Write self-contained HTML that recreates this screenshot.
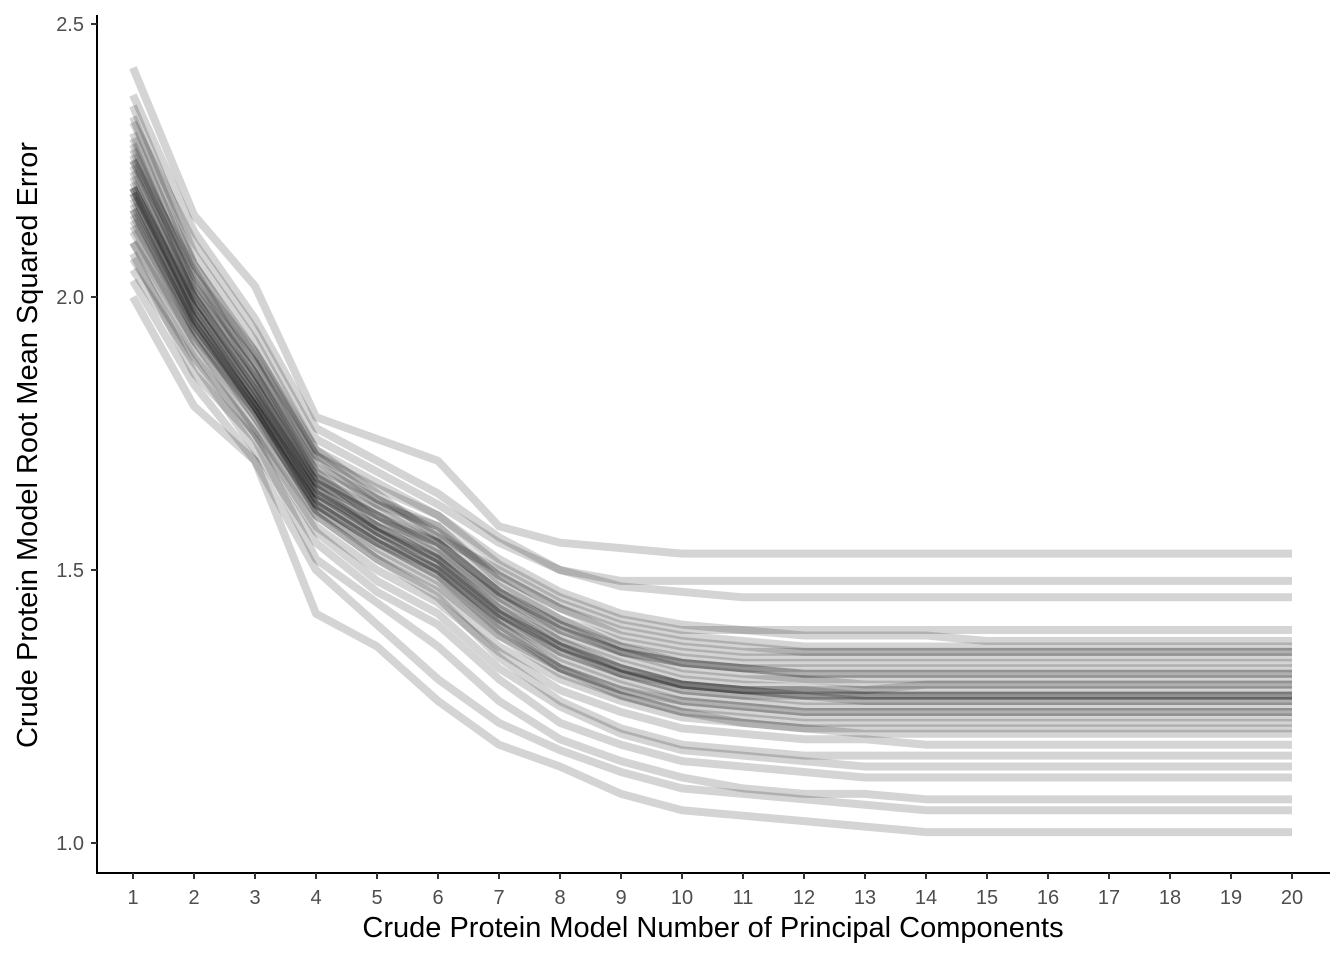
<!DOCTYPE html>
<html><head><meta charset="utf-8"><style>
html,body{margin:0;padding:0;background:#fff;}
svg{display:block;font-family:"Liberation Sans",Arial,sans-serif;}
</style></head><body>
<svg id="chart" width="1344" height="960">
<g id="lines"></g>
<g id="axes"></g>
<text x="713" y="937" text-anchor="middle" style="font-size:29px" fill="#000">Crude Protein Model Number of Principal Components</text>
<text transform="translate(37,445) rotate(-90)" text-anchor="middle" style="font-size:29px" fill="#000">Crude Protein Model Root Mean Squared Error</text>
</svg>
<script>
const components = [1,2,3,4,5,6,7,8,9,10,11,12,13,14,15,16,17,18,19,20];
const yTicks = [1.0,1.5,2.0,2.5];
const yTickLabels = ["1.0","1.5","2.0","2.5"];
const runs = [
[2.20,1.98,1.82,1.65,1.58,1.52,1.43,1.37,1.33,1.30,1.29,1.285,1.28,1.28,1.28,1.28,1.28,1.28,1.28,1.28],
[2.35,2.08,1.92,1.72,1.66,1.60,1.52,1.46,1.42,1.40,1.39,1.38,1.38,1.38,1.37,1.37,1.37,1.37,1.37,1.37],
[2.10,1.90,1.75,1.58,1.50,1.44,1.35,1.28,1.24,1.21,1.20,1.19,1.19,1.18,1.18,1.18,1.18,1.18,1.18,1.18],
[2.28,2.02,1.88,1.70,1.62,1.58,1.48,1.41,1.36,1.33,1.32,1.31,1.31,1.31,1.31,1.31,1.31,1.31,1.31,1.31],
[2.15,1.95,1.80,1.62,1.55,1.49,1.40,1.33,1.29,1.26,1.25,1.24,1.24,1.24,1.24,1.24,1.24,1.24,1.24,1.24],
[2.42,2.15,2.02,1.78,1.74,1.70,1.58,1.55,1.54,1.53,1.53,1.53,1.53,1.53,1.53,1.53,1.53,1.53,1.53,1.53],
[2.00,1.80,1.70,1.42,1.36,1.26,1.18,1.14,1.09,1.06,1.05,1.04,1.03,1.02,1.02,1.02,1.02,1.02,1.02,1.02],
[2.22,2.00,1.84,1.66,1.60,1.54,1.45,1.39,1.35,1.33,1.32,1.32,1.32,1.32,1.32,1.32,1.32,1.32,1.32,1.32],
[2.18,1.96,1.80,1.63,1.56,1.50,1.41,1.35,1.31,1.28,1.27,1.27,1.27,1.27,1.27,1.27,1.27,1.27,1.27,1.27],
[2.25,2.05,1.86,1.68,1.59,1.55,1.46,1.40,1.36,1.34,1.33,1.33,1.33,1.33,1.33,1.33,1.33,1.33,1.33,1.33],
[2.05,1.88,1.72,1.55,1.46,1.40,1.30,1.22,1.18,1.15,1.14,1.13,1.12,1.12,1.12,1.12,1.12,1.12,1.12,1.12],
[2.30,2.04,1.90,1.72,1.64,1.56,1.50,1.44,1.40,1.38,1.37,1.36,1.36,1.36,1.36,1.36,1.36,1.36,1.36,1.36],
[2.12,1.92,1.78,1.60,1.52,1.46,1.36,1.30,1.26,1.23,1.22,1.21,1.21,1.21,1.21,1.21,1.21,1.21,1.21,1.21],
[2.20,1.99,1.83,1.64,1.57,1.51,1.42,1.36,1.32,1.29,1.28,1.28,1.28,1.29,1.29,1.29,1.29,1.29,1.29,1.29],
[2.26,2.01,1.86,1.69,1.63,1.57,1.49,1.43,1.39,1.37,1.36,1.35,1.35,1.35,1.35,1.35,1.35,1.35,1.35,1.35],
[2.16,1.94,1.79,1.61,1.54,1.48,1.38,1.32,1.28,1.25,1.24,1.23,1.23,1.23,1.23,1.23,1.23,1.23,1.23,1.23],
[2.32,2.10,1.94,1.74,1.68,1.62,1.55,1.50,1.47,1.46,1.45,1.45,1.45,1.45,1.45,1.45,1.45,1.45,1.45,1.45],
[2.08,1.86,1.74,1.52,1.44,1.36,1.26,1.19,1.15,1.12,1.10,1.09,1.09,1.08,1.08,1.08,1.08,1.08,1.08,1.08],
[2.24,2.00,1.85,1.67,1.60,1.55,1.46,1.39,1.35,1.32,1.31,1.30,1.30,1.30,1.30,1.30,1.30,1.30,1.30,1.30],
[2.19,1.97,1.81,1.64,1.58,1.53,1.44,1.37,1.32,1.29,1.28,1.27,1.26,1.26,1.26,1.26,1.26,1.26,1.26,1.26],
[2.14,1.94,1.78,1.62,1.55,1.50,1.40,1.32,1.27,1.24,1.22,1.21,1.20,1.20,1.20,1.20,1.20,1.20,1.20,1.20],
[2.27,2.03,1.88,1.68,1.62,1.56,1.47,1.41,1.37,1.35,1.34,1.34,1.34,1.34,1.34,1.34,1.34,1.34,1.34,1.34],
[2.21,1.98,1.82,1.66,1.58,1.52,1.43,1.36,1.32,1.29,1.28,1.27,1.27,1.27,1.27,1.27,1.27,1.27,1.27,1.27],
[2.10,1.92,1.76,1.60,1.52,1.45,1.34,1.26,1.21,1.18,1.17,1.16,1.16,1.16,1.16,1.16,1.16,1.16,1.16,1.16],
[2.33,2.06,1.90,1.71,1.65,1.60,1.51,1.45,1.41,1.39,1.39,1.39,1.39,1.39,1.39,1.39,1.39,1.39,1.39,1.39],
[2.17,1.96,1.81,1.63,1.56,1.50,1.41,1.34,1.30,1.27,1.26,1.25,1.25,1.25,1.25,1.25,1.25,1.25,1.25,1.25],
[2.23,2.00,1.84,1.66,1.60,1.53,1.45,1.38,1.34,1.31,1.30,1.30,1.29,1.29,1.29,1.29,1.29,1.29,1.29,1.29],
[2.03,1.84,1.70,1.50,1.40,1.30,1.22,1.17,1.13,1.10,1.09,1.08,1.07,1.06,1.06,1.06,1.06,1.06,1.06,1.06],
[2.29,2.06,1.89,1.71,1.63,1.58,1.49,1.43,1.38,1.36,1.35,1.35,1.35,1.35,1.35,1.35,1.35,1.35,1.35,1.35],
[2.19,1.96,1.80,1.64,1.57,1.51,1.42,1.35,1.31,1.28,1.27,1.26,1.26,1.26,1.26,1.26,1.26,1.26,1.26,1.26],
[2.13,1.93,1.79,1.61,1.53,1.47,1.38,1.31,1.27,1.24,1.23,1.22,1.22,1.22,1.22,1.22,1.22,1.22,1.22,1.22],
[2.37,2.12,1.96,1.76,1.70,1.64,1.56,1.50,1.48,1.48,1.48,1.48,1.48,1.48,1.48,1.48,1.48,1.48,1.48,1.48],
[2.25,2.02,1.86,1.67,1.61,1.55,1.46,1.40,1.35,1.33,1.32,1.31,1.31,1.31,1.31,1.31,1.31,1.31,1.31,1.31],
[2.20,1.98,1.83,1.65,1.57,1.52,1.42,1.36,1.31,1.29,1.28,1.28,1.27,1.27,1.27,1.27,1.27,1.27,1.27,1.27],
[2.16,1.95,1.80,1.62,1.55,1.49,1.39,1.32,1.28,1.26,1.25,1.24,1.24,1.24,1.24,1.24,1.24,1.24,1.24,1.24],
[2.07,1.89,1.75,1.57,1.48,1.42,1.32,1.25,1.20,1.17,1.16,1.15,1.14,1.14,1.14,1.14,1.14,1.14,1.14,1.14]
];
const NS='http://www.w3.org/2000/svg';
const xScale = v => 133 + (v-1)*(1292-133)/19;
const yScale = v => 843 - (v-1.0)*546;
const gl=document.getElementById('lines'), ga=document.getElementById('axes');
runs.forEach((r,i)=>{
  const p=document.createElementNS(NS,'polyline');
  p.setAttribute('points', r.map((v,j)=>xScale(components[j])+','+yScale(v)).join(' '));
  p.setAttribute('fill','none'); p.setAttribute('stroke','#000');
  p.setAttribute('stroke-opacity','0.17'); p.setAttribute('stroke-width','8');
  p.setAttribute('stroke-linejoin','round');
  
  
  gl.appendChild(p);
});
function mk(tag,attrs,parent){const e=document.createElementNS(NS,tag);for(const k in attrs)e.setAttribute(k,attrs[k]);parent.appendChild(e);return e;}
const yl=mk('line',{x1:97,y1:15,x2:97,y2:873,stroke:'#000','stroke-width':2},ga);


const xl=mk('line',{x1:96,y1:873,x2:1330,y2:873,stroke:'#000','stroke-width':2},ga);


yTicks.forEach((t,i)=>{
  const y=yScale(t);
  mk('line',{x1:91,y1:y,x2:97,y2:y,stroke:'#333','stroke-width':2},ga);
  const tx=mk('text',{x:84,y:y+7,'text-anchor':'end',style:'font-size:20px',fill:'#4d4d4d'},ga);
  tx.textContent=yTickLabels[i];
  
  
});
components.forEach(c=>{
  const x=xScale(c);
  mk('line',{x1:x,y1:873,x2:x,y2:879,stroke:'#333','stroke-width':2},ga);
  const tx=mk('text',{x:x,y:904,'text-anchor':'middle',style:'font-size:20px',fill:'#4d4d4d'},ga);
  tx.textContent=String(c);
  
  
});
</script>
</body></html>
